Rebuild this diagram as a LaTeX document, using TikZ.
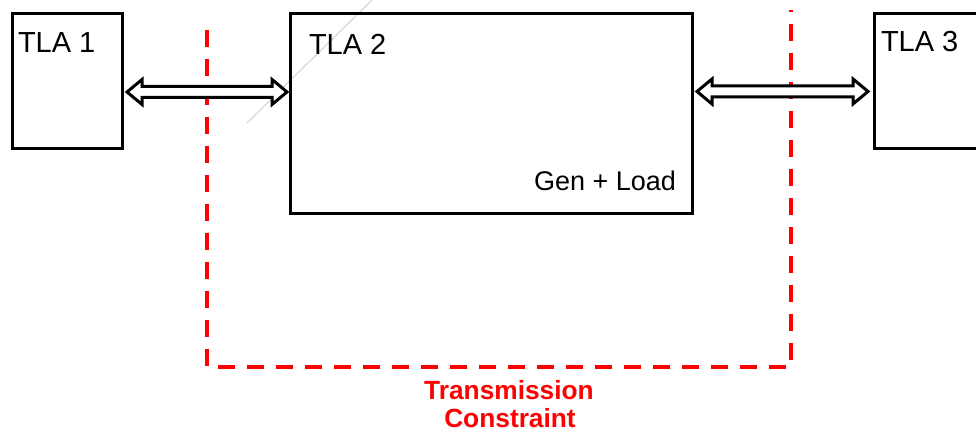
\documentclass[tikz,border=0pt]{standalone}
\usepackage{fontspec}
\setmainfont{Liberation Sans}
\usetikzlibrary{calc}
\tikzset{
  box/.style={draw=black, line width=3pt, fill=none, inner sep=0pt, outer sep=0pt},
  lbl/.style={inner sep=0pt, outer sep=0pt, font=\fontsize{29}{31}\selectfont},
  arrowline/.style={draw=black, line width=3pt, fill=white, line join=miter},
  redline/.style={draw={rgb,255:red,255;green,0;blue,0}, line width=3.5pt, dash pattern=on 17pt off 12pt},
  redtext/.style={text={rgb,255:red,255;green,0;blue,0}, font=\bfseries\fontsize{26.3}{28}\selectfont, align=center, inner sep=0pt},
}
\newcommand\mydblarrow[3]{%
  \draw[arrowline] let \p1=(#1), \p2=(#2) in
    (\x1,#3pt) -- (\x1+15pt,#3pt+12.5pt) -- (\x1+15pt,#3pt+5.5pt) -- (\x2-15pt,#3pt+5.5pt)
    -- (\x2-15pt,#3pt+12.5pt) -- (\x2,#3pt) -- (\x2-15pt,#3pt-12.5pt) -- (\x2-15pt,#3pt-5.5pt)
    -- (\x1+15pt,#3pt-5.5pt) -- (\x1+15pt,#3pt-12.5pt) -- cycle;}
\begin{document}
\begin{tikzpicture}[x=1pt,y=1pt]
\clip (0,0) rectangle (976,433);
\fill[white] (0,0) rectangle (976,433);
% faint grey line
\coordinate (g1) at (247,310);
\coordinate (g2) at (372,433);
\draw[black!18, line width=1pt] (g1) -- (g2);
% boxes
\node[box, minimum width=110pt, minimum height=135pt] (tla1) at (67,351.5) {};
\node[box, minimum width=402pt, minimum height=200pt] (tla2) at (491,319) {};
\node[box, minimum width=130pt, minimum height=135pt] (tla3) at (939,351.5) {};
% labels
\node[lbl, anchor=base west] (t1) at (18,380) {TLA 1};
\node[lbl, anchor=base west] (t2) at (309,378) {TLA 2};
\node[lbl, anchor=base west] (t3) at (881,381) {TLA 3};
\node[lbl, anchor=base east, font=\fontsize{27}{29}\selectfont] (gl) at (676,242) {Gen + Load};
% red dashed constraint
\coordinate (r1) at (207,403);
\coordinate (r2) at (207,66);
\coordinate (r3) at (791,66);
\coordinate (r4) at (791,423);
\draw[redline] (r1) -- (r2) -- (r3) -- (r4);
% double arrows
\coordinate (a1) at ($(tla1.east)+(5,0)$);
\coordinate (a2) at ($(tla2.west)+(-3,0)$);
\coordinate (a3) at ($(tla2.east)+(5,0)$);
\coordinate (a4) at ($(tla3.west)+(-6,0)$);
\mydblarrow{a1}{a2}{341}
\mydblarrow{a3}{a4}{341.5}
% red text
\node[redtext, anchor=base] (tc) at (509,33) {Transmission};
\node[redtext, anchor=base] (tc2) at (510,5) {Constraint};
\end{tikzpicture}
\end{document}
